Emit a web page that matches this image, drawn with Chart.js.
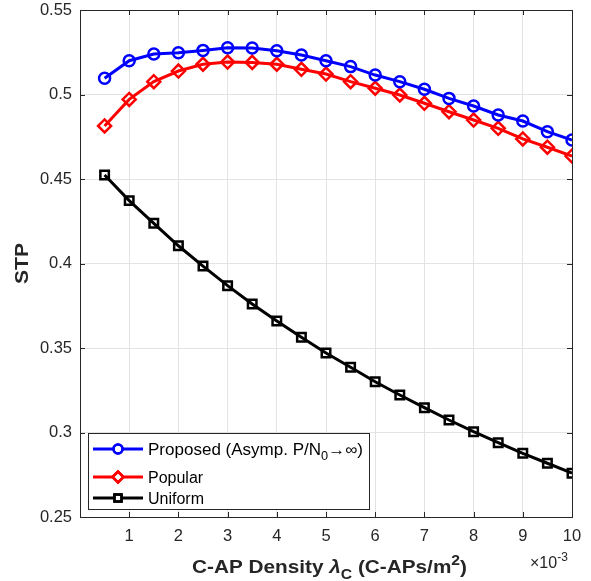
<!DOCTYPE html>
<html lang="en">
<head>
    <meta charset="UTF-8">
    <title>STP vs C-AP Density</title>
    <script src="https://cdn.jsdelivr.net/npm/chart.js@4.4.0/dist/chart.umd.min.js"></script>
    <style>
        html, body { margin: 0; padding: 0; background: #fff; }
        #wrap { width: 591px; height: 581px; }
    </style>
</head>
<body>
    <div id="wrap"><canvas id="myChart" width="591" height="581"></canvas></div>

    <script>
        // C-AP density, in units of 1e-3 C-APs/m^2
        const density = [0.5, 1, 1.5, 2, 2.5, 3, 3.5, 4, 4.5, 5, 5.5, 6, 6.5, 7, 7.5, 8, 8.5, 9, 9.5, 10];

        const proposed = [0.5096, 0.5200, 0.5240, 0.5247, 0.5261, 0.5277, 0.5275, 0.5259, 0.5234, 0.5200,
                          0.5165, 0.5115, 0.5076, 0.5031, 0.4977, 0.4932, 0.4879, 0.4843, 0.4780, 0.4731];
        const popular  = [0.4814, 0.4971, 0.5076, 0.5139, 0.5179, 0.5192, 0.5190, 0.5179, 0.5149, 0.5121,
                          0.5076, 0.5037, 0.4997, 0.4948, 0.4898, 0.4849, 0.4800, 0.4737, 0.4688, 0.4636];
        const uniform  = [0.4524, 0.4372, 0.4238, 0.4105, 0.3985, 0.3869, 0.3760, 0.3660, 0.3563, 0.3470,
                          0.3386, 0.3300, 0.3222, 0.3147, 0.3074, 0.3005, 0.2940, 0.2877, 0.2818, 0.2759];

        const xTicks = [1, 2, 3, 4, 5, 6, 7, 8, 9, 10];
        const yTicks = [0.25, 0.3, 0.35, 0.4, 0.45, 0.5, 0.55];

        const FONT = '"Liberation Sans", Arial, Helvetica, sans-serif';
        const AXIS = '#262626';

        function points(vals) {
            return density.map((d, i) => ({ x: d * 1e-3, y: vals[i] }));
        }

        const series = [
            { label: 'Proposed', data: points(proposed), color: '#0000ff', style: 'circle', radius: 5.5 },
            { label: 'Popular', data: points(popular), color: '#ff0000', style: 'rectRot', radius: 6.5 },
            { label: 'Uniform', data: points(uniform), color: '#000000', style: 'rect', radius: 6 }
        ];

        // draw text pieces (font, offset) stretched horizontally to a given width
        function drawParts(ctx, parts, x, y, width) {
            let total = 0;
            parts.forEach(p => { ctx.font = p.f; p.w = ctx.measureText(p.t).width; total += p.w; });
            const k = width ? width / total : 1;
            ctx.save();
            ctx.translate(x, y);
            ctx.scale(k, 1);
            let cx = 0;
            parts.forEach(p => { ctx.font = p.f; ctx.fillText(p.t, cx, p.dy || 0); cx += p.w; });
            ctx.restore();
        }

        // box, inward ticks, legend and axis titles
        const decorations = {
            id: 'decorations',
            afterDraw(chart) {
                const ctx = chart.ctx;
                const a = chart.chartArea;
                const xs = chart.scales.x, ys = chart.scales.y;
                ctx.save();

                ctx.strokeStyle = AXIS;
                ctx.lineWidth = 1;
                ctx.beginPath();
                xTicks.forEach(t => {
                    const px = Math.round(xs.getPixelForValue(t * 1e-3)) + 0.5;
                    ctx.moveTo(px, a.bottom); ctx.lineTo(px, a.bottom - 5);
                    ctx.moveTo(px, a.top); ctx.lineTo(px, a.top + 5);
                });
                yTicks.forEach(t => {
                    const py = Math.round(ys.getPixelForValue(t)) + 0.5;
                    ctx.moveTo(a.left, py); ctx.lineTo(a.left + 5, py);
                    ctx.moveTo(a.right, py); ctx.lineTo(a.right - 5, py);
                });
                ctx.stroke();
                ctx.strokeRect(Math.round(a.left) + 0.5, Math.round(a.top) + 0.5,
                               Math.round(a.right - a.left), Math.round(a.bottom - a.top));

                // legend
                const lx = 88, ly = 433, lw = 281, lh = 76;
                ctx.fillStyle = '#fff';
                ctx.fillRect(lx, ly, lw, lh);
                ctx.strokeStyle = AXIS;
                ctx.strokeRect(lx + 0.5, ly + 0.5, lw, lh);
                const rows = [449, 477, 498];
                series.forEach((s, i) => {
                    const y = rows[i];
                    ctx.strokeStyle = s.color;
                    ctx.lineWidth = 3;
                    ctx.beginPath();
                    ctx.moveTo(93, y); ctx.lineTo(143, y);
                    ctx.stroke();
                    ctx.lineWidth = 2.5;
                    Chart.helpers.drawPoint(ctx, {
                        pointStyle: s.style, radius: s.radius - 1, borderWidth: 2.5, rotation: 0
                    }, 118, y);
                    ctx.stroke();
                });
                ctx.fillStyle = '#000';
                ctx.textBaseline = 'alphabetic';
                ctx.textAlign = 'left';
                const f16 = '16px ' + FONT, f12 = '12px ' + FONT;
                drawParts(ctx, [
                    { t: 'Proposed (Asymp. P/N', f: f16 },
                    { t: '0', f: f12, dy: 5 },
                    { t: '\u2192\u221E)', f: f16 }
                ], 148, rows[0] + 6, 215);
                ctx.font = f16;
                ctx.fillText('Popular', 148, rows[1] + 6);
                ctx.fillText('Uniform', 148, rows[2] + 6);

                // y title
                ctx.fillStyle = AXIS;
                ctx.save();
                ctx.translate(28, (a.top + a.bottom) / 2);
                ctx.rotate(-Math.PI / 2);
                ctx.font = 'bold 18px ' + FONT;
                const wS = 41;
                drawParts(ctx, [{ t: 'STP', f: 'bold 18px ' + FONT }], -wS / 2, 0, wS);
                ctx.restore();

                // x title with lambda subscript and m^2
                const big = 'bold 18.5px ' + FONT, small = 'bold 14px ' + FONT;
                drawParts(ctx, [
                    { t: 'C-AP Density ', f: big },
                    { t: '\u03BB', f: 'italic ' + big },
                    { t: 'C', f: small, dy: 6 },
                    { t: ' (C-APs/m', f: big },
                    { t: '2', f: small, dy: -8 },
                    { t: ')', f: big }
                ], 192, 573, 275);

                // exponent
                ctx.font = '16px ' + FONT;
                ctx.fillText('\u00D710', 530, 568);
                const w10 = ctx.measureText('\u00D710').width;
                ctx.font = '12px ' + FONT;
                ctx.fillText('-3', 530 + w10, 561);

                ctx.restore();
            }
        };

        const ctx = document.getElementById('myChart').getContext('2d');
        const myChart = new Chart(ctx, {
            type: 'line',
            data: {
                datasets: series.map(s => ({
                    label: s.label,
                    data: s.data,
                    borderColor: s.color,
                    backgroundColor: 'rgba(0,0,0,0)',
                    pointBorderColor: s.color,
                    pointBackgroundColor: 'rgba(0,0,0,0)',
                    pointStyle: s.style,
                    pointRadius: s.radius,
                    pointBorderWidth: 2.5,
                    borderWidth: 3,
                    tension: 0
                }))
            },
            options: {
                responsive: false,
                animation: false,
                devicePixelRatio: 1,
                layout: { padding: { top: 10, right: 19, left: 0, bottom: 0 } },
                plugins: { legend: { display: false }, tooltip: { enabled: false } },
                scales: {
                    x: {
                        type: 'linear',
                        min: 0,
                        max: 0.01,
                        afterFit(scale) {
                            scale.height = 64;
                            scale.paddingLeft = 0;
                            scale.paddingRight = 0;
                        },
                        afterBuildTicks(scale) {
                            scale.ticks = [0].concat(xTicks).map(t => ({ value: t * 1e-3 }));
                        },
                        ticks: {
                            padding: 10,
                            color: AXIS,
                            font: { family: FONT, size: 16.5 },
                            maxRotation: 0,
                            autoSkip: false,
                            callback: v => {
                                const n = Math.round(v * 1000);
                                return n === 0 ? '' : String(n);
                            }
                        },
                        grid: { color: '#e3e3e3', lineWidth: 1, drawTicks: false },
                        border: { display: false }
                    },
                    y: {
                        min: 0.25,
                        max: 0.55,
                        afterFit(scale) {
                            scale.width = 80;
                            scale.paddingTop = 0;
                            scale.paddingBottom = 0;
                        },
                        afterBuildTicks(scale) {
                            scale.ticks = yTicks.map(t => ({ value: t }));
                        },
                        ticks: {
                            padding: 8,
                            color: AXIS,
                            font: { family: FONT, size: 16.5 },
                            autoSkip: false,
                            callback: v => String(Number(v.toFixed(2)))
                        },
                        grid: { color: '#e3e3e3', lineWidth: 1, drawTicks: false },
                        border: { display: false }
                    }
                }
            },
            plugins: [decorations]
        });
    </script>
</body>
</html>
